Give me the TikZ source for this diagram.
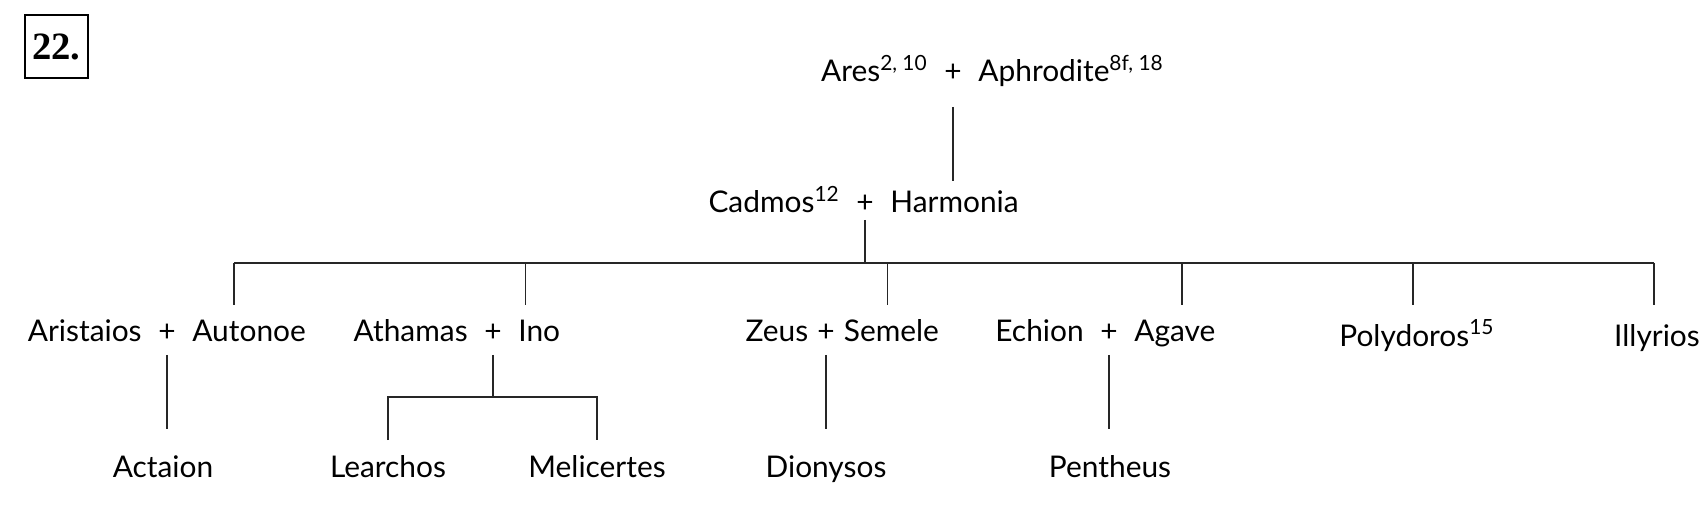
\documentclass[tikz,border=0pt]{standalone}
\usepackage{fontspec}
\setmainfont{Lato}
\newfontfamily\nrfont{Liberation Serif}
\usepackage{tikz}
\usetikzlibrary{positioning}

\begin{document}
\begin{tikzpicture}[
    person/.style={inner sep=0pt, font=\fontsize{17}{20}\selectfont},
    famline/.style={line width=0.7pt, black!85}
  ]
  \useasboundingbox (0,0) rectangle (34.04,-10.4);

  \node[draw, line width=0.8pt, minimum size=1.26cm, inner sep=0pt,
        font=\nrfont\bfseries\fontsize{22}{24}\selectfont] (nr) at (1.13,-0.93) {22.};

  % parents
  \node[person, anchor=base] (aresplus) at (19.06,-1.64) {+};
  \node[person, base left=0.32cm of aresplus] (ares) {Ares\textsuperscript{2, 10}};
  \node[person, base right=0.32cm of aresplus] (aphrodite) {Aphrodite\textsuperscript{8f, 18}};

  \node[person, anchor=base] (cadmosplus) at (17.30,-4.26) {+};
  \node[person, base left=0.32cm of cadmosplus] (cadmos) {Cadmos\textsuperscript{12}};
  \node[person, base right=0.32cm of cadmosplus] (harmonia) {Harmonia};

  % children of Cadmos and Harmonia
  \node[person, anchor=base] (aristaiosplus) at (3.34,-6.84) {+};
  \node[person, base left=0.32cm of aristaiosplus] (aristaios) {Aristaios};
  \node[person, base right=0.32cm of aristaiosplus] (autonoe) {Autonoe};

  \node[person, anchor=base] (athamasplus) at (9.86,-6.84) {+};
  \node[person, base left=0.32cm of athamasplus] (athamas) {Athamas};
  \node[person, base right=0.32cm of athamasplus] (ino) {Ino};

  \node[person, anchor=base] (zeusplus) at (16.52,-6.84) {+};
  \node[person, base left=0.17cm of zeusplus] (zeus) {Zeus};
  \node[person, base right=0.17cm of zeusplus] (semele) {Semele};

  \node[person, anchor=base] (echionplus) at (22.18,-6.84) {+};
  \node[person, base left=0.32cm of echionplus] (echion) {Echion};
  \node[person, base right=0.32cm of echionplus] (agave) {Agave};

  \node[person, anchor=base west] (polydoros) at (26.78,-6.92) {Polydoros\textsuperscript{15}};
  \node[person, anchor=base] (illyrios) at (33.14,-6.92) {Illyrios};

  % grandchildren
  \node[person, anchor=base] (actaion) at (3.26,-9.54) {Actaion};
  \node[person, anchor=base] (learchos) at (7.76,-9.54) {Learchos};
  \node[person, anchor=base] (melicertes) at (11.94,-9.54) {Melicertes};
  \node[person, anchor=base] (dionysos) at (16.52,-9.54) {Dionysos};
  \node[person, anchor=base] (pentheus) at (22.20,-9.54) {Pentheus};

  % lines
  \draw[famline] ([yshift=-0.5cm]aresplus.base) -- ([yshift=0.64cm]aresplus.base |- harmonia.base);
  \draw[famline] ([yshift=-0.14cm]cadmosplus.base) -- ++(0,-0.86) coordinate (bar);
  \draw[famline] ([xshift=-0.3cm]autonoe.north |- bar) -- ([xshift=-0.06cm]illyrios.north |- bar);
  \draw[famline] ([xshift=-0.3cm]autonoe.north |- bar) -- ++(0,-0.84);
  \draw[famline] ([xshift=-0.28cm]ino.north |- bar) -- ++(0,-0.84);
  \draw[famline] ([xshift=-0.08cm]semele.north |- bar) -- ++(0,-0.84);
  \draw[famline] ([xshift=0.14cm]agave.north |- bar) -- ++(0,-0.84);
  \draw[famline] ([xshift=1.48cm]polydoros.base west |- bar) -- ++(0,-0.84);
  \draw[famline] ([xshift=-0.06cm]illyrios.north |- bar) -- ++(0,-0.84);

  \draw[famline] ([yshift=-0.26cm]aristaiosplus.base) -- ([yshift=0.96cm]aristaiosplus.base |- actaion.base);
  \draw[famline] ([yshift=-0.26cm]athamasplus.base) -- ++(0,-0.84) coordinate (sub);
  \draw[famline] ([yshift=0.74cm]learchos.base) |- (sub) -| ([yshift=0.74cm]melicertes.base);
  \draw[famline] ([yshift=-0.26cm]zeusplus.base) -- ([yshift=0.96cm]zeusplus.base |- dionysos.base);
  \draw[famline] ([yshift=-0.26cm]echionplus.base) -- ([yshift=0.96cm]echionplus.base |- pentheus.base);
\end{tikzpicture}
\end{document}
